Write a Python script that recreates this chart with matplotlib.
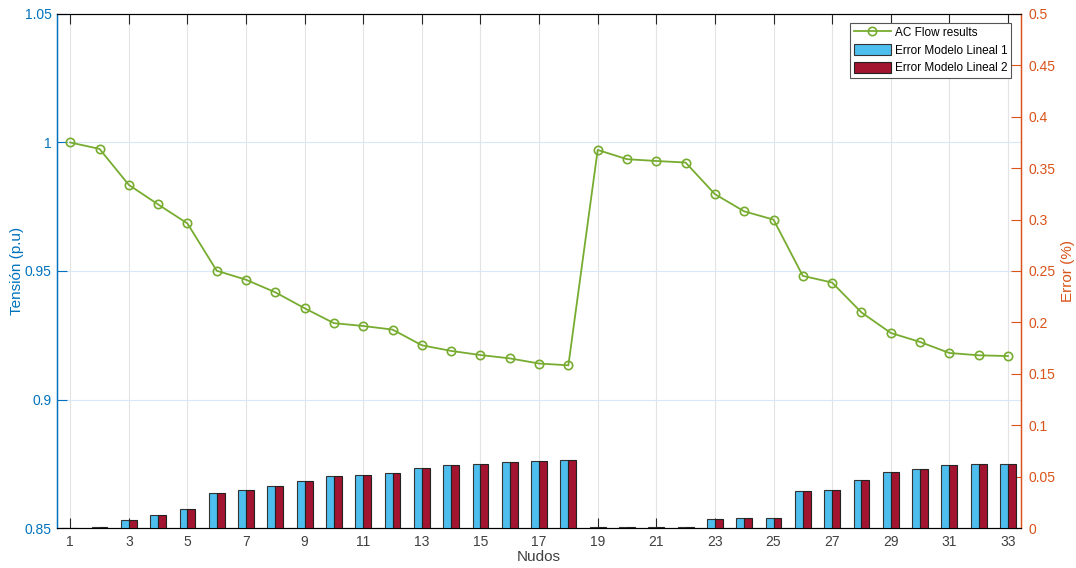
import numpy as np
import matplotlib
matplotlib.use("Agg")
import matplotlib.pyplot as plt

plt.rcParams['font.family'] = ['Liberation Sans', 'DejaVu Sans']

# data
nodes = list(range(1, 34))
tension = [1.0000, 0.9975, 0.9835, 0.9759, 0.9685, 0.9501, 0.9466, 0.9417, 0.9355,
           0.9297, 0.9286, 0.9272, 0.9211, 0.9189, 0.9173, 0.9160, 0.9140, 0.9133,
           0.9971, 0.9935, 0.9928, 0.9922, 0.9799, 0.9732, 0.9700, 0.9481, 0.9455,
           0.9339, 0.9259, 0.9224, 0.9181, 0.9172, 0.9169]
error_1 = [0.0, 0.001, 0.0081, 0.013, 0.0185, 0.0338, 0.0374, 0.0409, 0.0461, 0.0507,
           0.0517, 0.0536, 0.0585, 0.0614, 0.0624, 0.064, 0.0656, 0.0666, 0.001, 0.001,
           0.001, 0.001, 0.0088, 0.0097, 0.0097, 0.0357, 0.0374, 0.0471, 0.0543, 0.0578,
           0.0617, 0.0627, 0.0627]
error_2 = [0.0, 0.001, 0.0081, 0.013, 0.0185, 0.0338, 0.0374, 0.0409, 0.0461, 0.0507,
           0.0517, 0.0536, 0.0585, 0.0614, 0.0624, 0.064, 0.0656, 0.0666, 0.001, 0.001,
           0.001, 0.001, 0.0088, 0.0097, 0.0097, 0.0357, 0.0374, 0.0471, 0.0543, 0.0578,
           0.0617, 0.0627, 0.0627]
left_ticks = [0.85, 0.9, 0.95, 1.0, 1.05]
right_ticks = [0, 0.05, 0.1, 0.15, 0.2, 0.25, 0.3, 0.35, 0.4, 0.45, 0.5]
x_ticks = list(range(1, 34, 2))

c_left = '#0072BD'
c_right = '#D95319'
c_line = '#77AC30'
c_b1 = '#4DBEEE'
c_b2 = '#A2142F'
c_txt = '#404040'

fig = plt.figure(figsize=(10.76, 5.68), dpi=100)
ax1 = fig.add_axes([0.053, 0.0704, 0.896, 0.905])
ax2 = ax1.twinx()

x = np.array(nodes)
w = 0.27
b1 = ax2.bar(x - w / 2, error_1, width=w, color=c_b1, edgecolor='#333333', linewidth=0.8, zorder=3)
b2 = ax2.bar(x + w / 2, error_2, width=w, color=c_b2, edgecolor='#222222', linewidth=0.8, zorder=3)

ln, = ax1.plot(x, tension, color=c_line, lw=1.3, marker='o', ms=6,
               mfc='none', mec=c_line, mew=1.2, zorder=4)

ax1.set_xlim(0.55, 33.45)
ax1.set_ylim(0.85, 1.05)
ax2.set_ylim(0, 0.5)

ax1.set_xticks(x_ticks)
ax1.set_xticklabels([str(t) for t in x_ticks], color=c_txt, fontsize=10)
ax1.set_yticks(left_ticks)
ax1.set_yticklabels(['%g' % t for t in left_ticks], color=c_left, fontsize=10)
ax2.set_yticks(right_ticks)
ax2.set_yticklabels(['%g' % t for t in right_ticks], color=c_right, fontsize=10)

ax1.tick_params(axis='x', direction='in', length=7, color='#262626', top=True, width=0.8, pad=5)
ax1.tick_params(axis='y', direction='in', length=7, color=c_left, width=0.8, pad=4)
ax2.tick_params(axis='y', direction='in', length=7, color=c_right, width=0.8, pad=5)

# grid
ax1.set_axisbelow(True)
ax1.grid(axis='x', color='#e3e3e3', lw=0.8)
ax1.grid(axis='y', color='#d8e8f6', lw=0.8)

for s in ['top', 'bottom']:
    ax1.spines[s].set_color('#262626')
    ax1.spines[s].set_linewidth(0.8)
ax2.spines['left'].set_color(c_left)
ax2.spines['right'].set_color(c_right)
ax2.spines['left'].set_linewidth(1.0)
ax2.spines['right'].set_linewidth(1.0)
ax1.spines['left'].set_color(c_left)
ax1.spines['right'].set_color(c_right)

ax1.set_xlabel('Nudos', color=c_txt, fontsize=11, labelpad=1)
ax1.set_ylabel('Tensión (p.u)', color=c_left, fontsize=11)
ax2.set_ylabel('Error (%)', color=c_right, fontsize=11)
ax1.yaxis.set_label_coords(-0.0345, 0.5)
ax2.yaxis.set_label_coords(1.0415, 0.5)

leg = ax2.legend([ln, b1, b2], ['AC Flow results', 'Error Modelo Lineal 1', 'Error Modelo Lineal 2'],
                 loc='upper right', bbox_to_anchor=(0.9895, 0.982), fontsize=8.5,
                 fancybox=False, framealpha=1, edgecolor='#555555',
                 borderpad=0.3, labelspacing=0.45, handlelength=3.2, handleheight=1.0,
                 handletextpad=0.3, borderaxespad=0)
leg.get_frame().set_linewidth(0.8)

fig.savefig('out.png', dpi=100)
